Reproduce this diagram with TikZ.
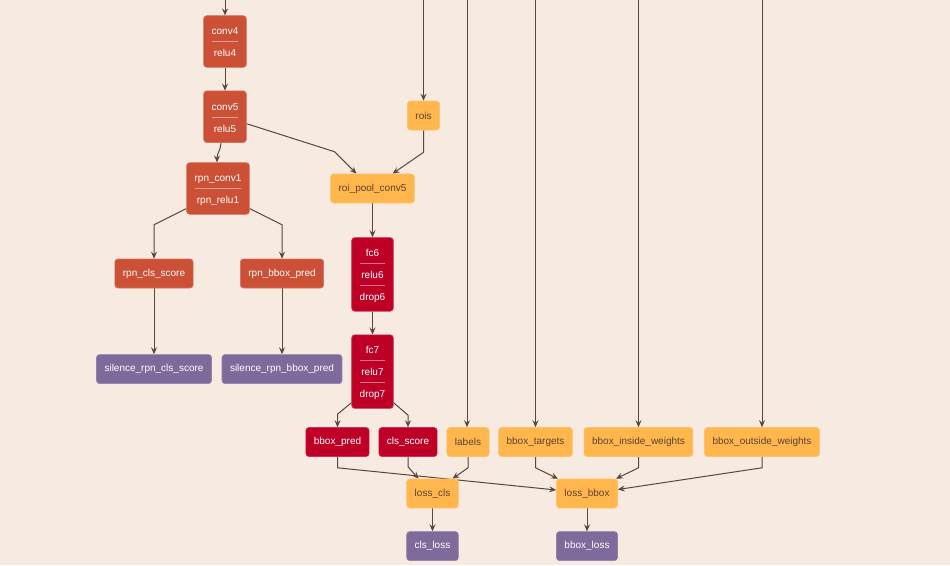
\documentclass[tikz,border=0pt]{standalone}
\usepackage{fontspec}
\setsansfont{Liberation Sans}
\usepackage{colortbl}
\usetikzlibrary{arrows.meta,positioning}
\definecolor{NetBg}{HTML}{F6EAE1}
\definecolor{NetConv}{HTML}{CB5036}
\definecolor{NetFc}{HTML}{BE0027}
\definecolor{NetData}{HTML}{FFB74D}
\definecolor{NetSil}{HTML}{7F6A9C}
\definecolor{NetLine}{HTML}{5B463D}
\definecolor{NetText}{HTML}{5D4037}
\pgfdeclarelayer{bg}
\pgfdeclarelayer{edges}
\pgfsetlayers{bg,edges,main}
\renewcommand{\arraystretch}{1.8}
\newcommand{\rows}[2]{{\arrayrulecolor{#1}\begin{tabular}{@{}c@{}}#2\end{tabular}}}

\begin{document}
\begin{tikzpicture}[x=1pt,y=-1pt,font=\sffamily\fontsize{10pt}{12pt}\selectfont,
  n/.style={rounded corners=3pt,inner xsep=8pt,minimum height=29pt,line width=0.6pt},
  conv/.style={n,fill=NetConv,draw=NetConv!80!white,text=white,inner ysep=4pt},
  fc/.style={n,fill=NetFc,draw=NetFc!80!white,text=white,inner ysep=4pt},
  data/.style={n,fill=NetData,draw=NetData!85!white,text=NetText},
  sil/.style={n,fill=NetSil,draw=NetSil!85!white,text=white},
  a/.style={draw=NetLine,line width=1pt,-{Stealth[length=7pt,width=6pt,inset=2.5pt]}}]
  \useasboundingbox (0,0) rectangle (950,565);
  \begin{pgfonlayer}{bg}
    \fill[NetBg] (0,0) rectangle (950,565);
  \end{pgfonlayer}

  % rpn branch
  \node[conv] (c4) at (225,41.5) {\rows{NetConv!55!white}{conv4\\\hline relu4}};
  \node[conv,below=23pt of c4] (c5) {\rows{NetConv!55!white}{conv5\\\hline relu5}};
  \node[conv] (rc1) at (218,188.5) {\rows{NetConv!55!white}{rpn\_conv1\\\hline rpn\_relu1}};
  \node[conv] (rcls) at (154,273.5) {rpn\_cls\_score};
  \node[conv] (rbb) at (282,273.5) {rpn\_bbox\_pred};
  \node[sil,below=66pt of rcls] (srcls) {silence\_rpn\_cls\_score};
  \node[sil,below=66pt of rbb] (srbb) {silence\_rpn\_bbox\_pred};

  % roi branch
  \node[data] (rois) at (423.5,115.5) {rois};
  \node[data] (pool) at (372.5,188.5) {roi\_pool\_conv5};
  \node[fc,below=34pt of pool] (fc6) {\rows{NetFc!55!white}{fc6\\\hline relu6\\\hline drop6}};
  \node[fc,below=23pt of fc6] (fc7) {\rows{NetFc!55!white}{fc7\\\hline relu7\\\hline drop7}};
  \node[fc] (bbp) at (337.5,442) {bbox\_pred};
  \node[fc] (clss) at (408,442) {cls\_score};
  \node[data] (lab) at (468,442) {labels};
  \node[data] (tgt) at (535.5,442) {bbox\_targets};
  \node[data] (inw) at (638.5,442) {bbox\_inside\_weights};
  \node[data] (outw) at (762,442) {bbox\_outside\_weights};

  % losses
  \node[data] (lcls) at (432.5,493.5) {loss\_cls};
  \node[data] (lbb) at (587,493.5) {loss\_bbox};
  \node[sil,below=23pt of lcls] (closs) {cls\_loss};
  \node[sil,below=23pt of lbb] (bloss) {bbox\_loss};

  % inputs from above
  \coordinate (t4) at (c4.north |- 0,0);
  \coordinate (trois) at (rois.north |- 0,0);
  \coordinate (tlab) at (467,0);
  \coordinate (ttgt) at (tgt.north |- 0,0);
  \coordinate (tinw) at (inw.north |- 0,0);
  \coordinate (toutw) at (outw.north |- 0,0);

  \begin{pgfonlayer}{edges}
    \draw[a] (t4) -- (c4);
    \draw[a] (c4) -- (c5);
    \draw[a] ([xshift=-4pt]c5.south) .. controls +(-1,10) and +(0,-10) .. ([xshift=-1pt]rc1.north);
    \draw[a] ([yshift=-7pt]c5.east) -- ([xshift=-38pt,yshift=22pt]pool.north) -- ([xshift=-16pt]pool.north);
    \draw[a] (trois) -- (rois);
    \draw[a] (rois.south) -- ([yshift=-22pt]rois.south) -- ([xshift=20pt]pool.north);
    \draw[a] (pool) -- (fc6);
    \draw[a] (fc6) -- (fc7);
    \draw[a] ([yshift=6pt]rc1.south west) -- ([yshift=34pt]rcls.north) -- (rcls.north);
    \draw[a] ([yshift=6pt]rc1.south east) -- ([yshift=34pt]rbb.north) -- (rbb.north);
    \draw[a] (rcls) -- (srcls);
    \draw[a] (rbb) -- (srbb);
    \draw[a] ([yshift=6pt]fc7.south west) -- ([yshift=13pt]bbp.north) -- (bbp.north);
    \draw[a] ([yshift=6pt]fc7.south east) -- ([yshift=12pt]clss.north) -- (clss.north);
    \draw[a] (tlab) -- (tlab |- lab.north);
    \draw[a] (ttgt) -- (tgt);
    \draw[a] (tinw) -- (inw);
    \draw[a] (toutw) -- (outw);
    \draw[a] (bbp.south) -- ++(0,11) -- ([yshift=3.5pt]lbb.west);
    \draw[a] (clss.south) -- ++(0,10) -- ([xshift=-14pt]lcls.north);
    \draw[a] (lab.south) -- ++(0,11) -- ([xshift=20pt]lcls.north);
    \draw[a] (tgt.south) -- ++(0,11) -- ([xshift=-29pt]lbb.north);
    \draw[a] (inw.south) -- ++(0,11) -- ([xshift=29pt]lbb.north);
    \draw[a] (outw.south) -- ++(0,11) -- ([yshift=4pt]lbb.east);
    \draw[a] (lcls) -- (closs);
    \draw[a] (lbb) -- (bloss);
  \end{pgfonlayer}
\end{tikzpicture}
\end{document}
